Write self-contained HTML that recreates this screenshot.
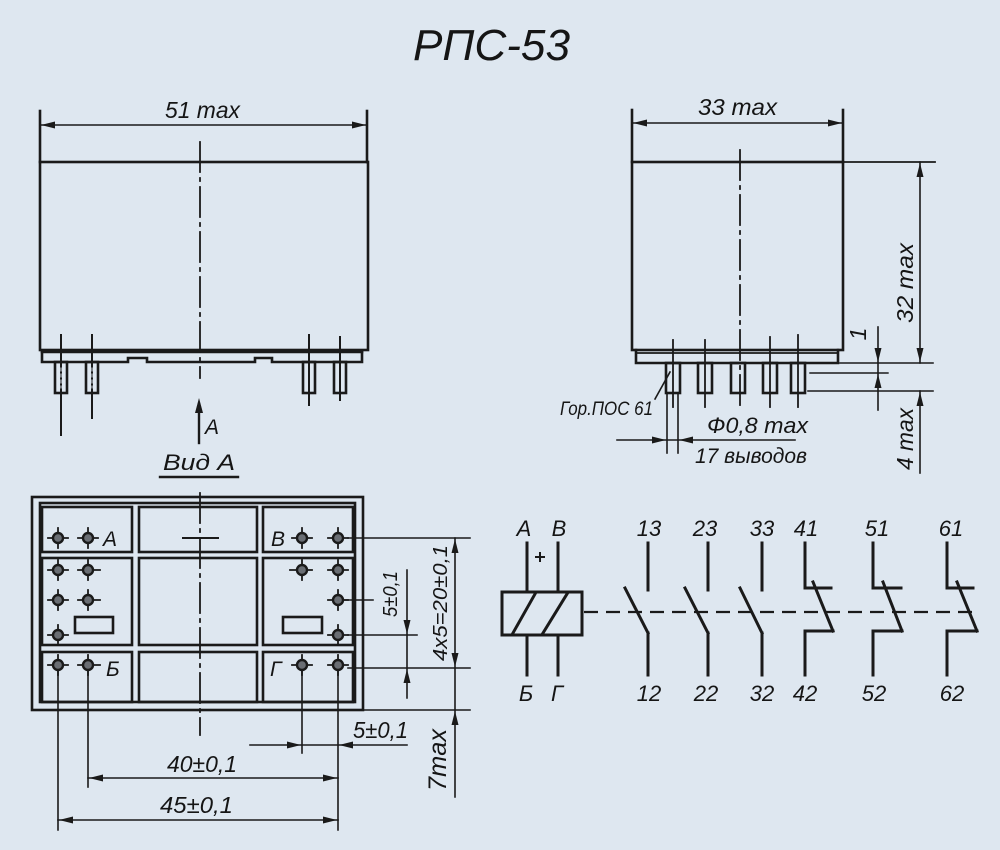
<!DOCTYPE html>
<html>
<head>
<meta charset="utf-8">
<style>
html,body{margin:0;padding:0;background:#dee7f0;}
svg{display:block;}
text{font-family:"Liberation Sans","DejaVu Sans",sans-serif;font-style:italic;fill:#151515;}
</style>
</head>
<body>
<svg width="1000" height="850" viewBox="0 0 1000 850" xmlns="http://www.w3.org/2000/svg">
<rect x="0" y="0" width="1000" height="850" fill="#dee7f0"/>

<!-- Title -->
<text x="413" y="60" font-size="44" textLength="157" lengthAdjust="spacingAndGlyphs">РПС-53</text>

<g stroke="#1a1a1a" stroke-width="2.6" fill="none" stroke-linecap="square">
<!-- ================= LEFT VIEW ================= -->
<line x1="40" y1="111" x2="40" y2="162"/>
<line x1="367" y1="111" x2="367" y2="162"/>
<line x1="40" y1="125" x2="367" y2="125" stroke-width="1.6"/>
<rect x="40" y="162" width="328" height="188"/>
<!-- plate -->
<polyline points="42,352 362,352"/>
<polyline points="42,352 42,362 128,362 128,358 147,358 147,362 255,362 255,358 272,358 272,362 362,362 362,352"/>
<!-- centre line -->
<line x1="200" y1="142" x2="200" y2="378" stroke-width="1.8" stroke-dasharray="30,6,3,6"/>
<!-- pins -->
<rect x="55" y="362" width="12" height="31"/>
<rect x="86" y="362" width="12" height="31"/>
<rect x="303" y="362" width="12" height="31"/>
<rect x="334" y="362" width="12" height="31"/>
<line x1="61" y1="335" x2="61" y2="435" stroke-width="2"/>
<line x1="92" y1="335" x2="92" y2="418" stroke-width="2"/>
<line x1="309" y1="335" x2="309" y2="405" stroke-width="2"/>
<line x1="340" y1="337" x2="340" y2="400" stroke-width="2"/>
<line x1="61" y1="368" x2="61" y2="388" stroke="#dee7f0" stroke-width="1" stroke-dasharray="3,3"/>
<line x1="92" y1="368" x2="92" y2="388" stroke="#dee7f0" stroke-width="1" stroke-dasharray="3,3"/>
<!-- view arrow -->
<line x1="199" y1="404" x2="199" y2="443" stroke-width="2.4"/>
<line x1="160" y1="477" x2="238" y2="477" stroke-width="2.4"/>

<!-- ================= RIGHT VIEW ================= -->
<line x1="632" y1="110" x2="632" y2="162"/>
<line x1="843" y1="110" x2="843" y2="162"/>
<line x1="632" y1="123" x2="843" y2="123" stroke-width="1.6"/>
<rect x="632" y="162" width="211" height="188"/>
<line x1="843" y1="162" x2="935" y2="162" stroke-width="1.8"/>
<line x1="740" y1="150" x2="740" y2="405" stroke-width="1.8" stroke-dasharray="30,6,3,6"/>
<!-- plate -->
<polyline points="636,350 636,363 838,363 838,350"/>
<line x1="636" y1="353" x2="838" y2="353" stroke-width="1.8"/>
<!-- dim ext lines -->
<line x1="840" y1="363" x2="933" y2="363" stroke-width="1.6"/>
<line x1="810" y1="373" x2="888" y2="373" stroke-width="1.4"/>
<line x1="808" y1="391" x2="933" y2="391" stroke-width="1.6"/>
<line x1="920" y1="162" x2="920" y2="363" stroke-width="1.6"/>
<line x1="920" y1="391" x2="920" y2="473" stroke-width="1.6"/>
<line x1="878" y1="327" x2="878" y2="410" stroke-width="1.6"/>
<!-- pins -->
<rect x="666" y="363" width="14" height="30"/>
<rect x="698" y="363" width="14" height="30"/>
<rect x="731" y="363" width="14" height="30"/>
<rect x="763" y="363" width="14" height="30"/>
<rect x="791" y="363" width="14" height="30"/>
<line x1="673" y1="340" x2="673" y2="407" stroke-width="1.8"/>
<line x1="705" y1="340" x2="705" y2="407" stroke-width="1.8"/>
<line x1="770" y1="337" x2="770" y2="407" stroke-width="1.8"/>
<line x1="798" y1="335" x2="798" y2="407" stroke-width="1.8"/>
<!-- solder leader -->
<line x1="655" y1="399" x2="670" y2="372" stroke-width="1.6"/>
<line x1="667" y1="393" x2="667" y2="453" stroke-width="1.6"/>
<line x1="678" y1="393" x2="678" y2="453" stroke-width="1.6"/>
<line x1="617" y1="440" x2="795" y2="440" stroke-width="1.6"/>

<!-- ================= BOTTOM VIEW ================= -->
<rect x="32" y="497" width="331" height="213"/>
<rect x="40" y="503" width="315" height="199"/>
<!-- cells -->
<rect x="42" y="507" width="90" height="45"/>
<rect x="42" y="558" width="90" height="87"/>
<rect x="42" y="652" width="90" height="50"/>
<rect x="139" y="507" width="118" height="45"/>
<rect x="139" y="558" width="118" height="87"/>
<rect x="139" y="652" width="118" height="50"/>
<rect x="263" y="507" width="90" height="45"/>
<rect x="263" y="558" width="90" height="87"/>
<rect x="263" y="652" width="90" height="50"/>
<rect x="75" y="617" width="38" height="16"/>
<rect x="283" y="617" width="39" height="16"/>
<line x1="183" y1="538" x2="218" y2="538" stroke-width="2"/>
<line x1="200" y1="493" x2="200" y2="735" stroke-width="1.8" stroke-dasharray="30,6,3,6"/>

<!-- pin ext lines down -->
<line x1="58" y1="665" x2="58" y2="830" stroke-width="1.6"/>
<line x1="88" y1="665" x2="88" y2="787" stroke-width="1.6"/>
<line x1="302" y1="665" x2="302" y2="753" stroke-width="1.6"/>
<line x1="338" y1="665" x2="338" y2="830" stroke-width="1.6"/>
<!-- horizontal dims -->
<line x1="250" y1="745" x2="407" y2="745" stroke-width="1.6"/>
<line x1="88" y1="778" x2="338" y2="778" stroke-width="1.6"/>
<line x1="58" y1="820" x2="338" y2="820" stroke-width="1.6"/>
<!-- right ext lines -->
<line x1="348" y1="538" x2="470" y2="538" stroke-width="1.6"/>
<line x1="348" y1="635" x2="417" y2="635" stroke-width="1.6"/>
<line x1="348" y1="668" x2="470" y2="668" stroke-width="1.6"/>
<line x1="363" y1="710" x2="470" y2="710" stroke-width="1.6"/>
<line x1="338" y1="600" x2="373" y2="600" stroke-width="1.6"/>
<line x1="455" y1="538" x2="455" y2="797" stroke-width="1.6"/>
<line x1="407" y1="570" x2="407" y2="698" stroke-width="1.6"/>

<!-- pin crosses -->
<g stroke-width="1.8">
<path d="M48,538h20M58,528v20 M78,538h20M88,528v20
M48,570h20M58,560v20 M78,570h22M88,560v20
M48,600h20M58,590v20 M78,600h22M88,590v20
M48,635h20M58,625v18
M48,665h20M58,655v20 M78,665h22M88,655v20
M292,538h20M302,528v20 M328,538h20M338,528v20
M290,570h22M302,560v20 M328,570h20M338,560v20
M328,600h20M338,590v20
M328,635h20M338,625v20
M292,665h20M302,655v20 M328,665h20M338,655v20"/>
</g>
</g>

<!-- pin circles -->
<g fill="#6a6e74" stroke="#1a1a1a" stroke-width="2.4">
<circle cx="58" cy="538" r="5"/><circle cx="88" cy="538" r="5"/>
<circle cx="58" cy="570" r="5"/><circle cx="88" cy="570" r="5"/>
<circle cx="58" cy="600" r="5"/><circle cx="88" cy="600" r="5"/>
<circle cx="58" cy="635" r="5"/>
<circle cx="58" cy="665" r="5"/><circle cx="88" cy="665" r="5"/>
<circle cx="302" cy="538" r="5"/><circle cx="338" cy="538" r="5"/>
<circle cx="302" cy="570" r="5"/><circle cx="338" cy="570" r="5"/>
<circle cx="338" cy="600" r="5"/>
<circle cx="338" cy="635" r="5"/>
<circle cx="302" cy="665" r="5"/><circle cx="338" cy="665" r="5"/>
</g>

<!-- arrowheads -->
<g fill="#1a1a1a" stroke="none">
<!-- 51 max -->
<polygon points="41,125 55,121.5 55,128.5"/>
<polygon points="366,125 352,121.5 352,128.5"/>
<!-- view arrow A -->
<polygon points="199,398 195,413 203,413"/>
<!-- 33 max -->
<polygon points="633,123 647,119.5 647,126.5"/>
<polygon points="842,123 828,119.5 828,126.5"/>
<!-- 32 max -->
<polygon points="920,163 916.5,177 923.5,177"/>
<polygon points="920,362 916.5,348 923.5,348"/>
<!-- 4 max -->
<polygon points="920,392 916.5,406 923.5,406"/>
<!-- 1 -->
<polygon points="878,362 874.5,348 881.5,348"/>
<polygon points="878,374 874.5,388 881.5,388"/>
<!-- 0.8 -->
<polygon points="666,440 652,436.5 652,443.5"/>
<polygon points="679,440 693,436.5 693,443.5"/>
<!-- 4x5 / 7max -->
<polygon points="455,539 451.5,553 458.5,553"/>
<polygon points="455,667 451.5,653 458.5,653"/>
<polygon points="455,711 451.5,725 458.5,725"/>
<!-- 5±0,1 vertical -->
<polygon points="407,634 403.5,620 410.5,620"/>
<polygon points="407,669 403.5,683 410.5,683"/>
<!-- 5±0,1 horizontal -->
<polygon points="301,745 287,741.5 287,748.5"/>
<polygon points="339,745 353,741.5 353,748.5"/>
<!-- 40 -->
<polygon points="89,778 103,774.5 103,781.5"/>
<polygon points="337,778 323,774.5 323,781.5"/>
<!-- 45 -->
<polygon points="59,820 73,816.5 73,823.5"/>
<polygon points="337,820 323,816.5 323,823.5"/>
</g>

<!-- ================= SCHEMATIC ================= -->
<g stroke="#1a1a1a" stroke-width="3" fill="none" stroke-linecap="square">
<rect x="502" y="592" width="80" height="43"/>
<line x1="513" y1="633" x2="535" y2="594"/>
<line x1="543" y1="633" x2="567" y2="594"/>
<line x1="527" y1="543" x2="527" y2="592"/>
<line x1="558" y1="543" x2="558" y2="592"/>
<line x1="527" y1="635" x2="527" y2="675"/>
<line x1="558" y1="635" x2="558" y2="675"/>
<line x1="536" y1="557" x2="544" y2="557" stroke-width="2"/>
<line x1="540" y1="553" x2="540" y2="561" stroke-width="2"/>
<!-- dashed link -->
<line x1="584" y1="612" x2="977" y2="612" stroke-width="2.2" stroke-dasharray="14,8" stroke-linecap="butt"/>
<!-- NO contacts -->
<line x1="648" y1="543" x2="648" y2="590"/>
<line x1="648" y1="633" x2="648" y2="675"/>
<line x1="625" y1="588" x2="648" y2="633"/>
<line x1="708" y1="543" x2="708" y2="590"/>
<line x1="708" y1="633" x2="708" y2="675"/>
<line x1="685" y1="588" x2="708" y2="633"/>
<line x1="762" y1="543" x2="762" y2="590"/>
<line x1="762" y1="633" x2="762" y2="675"/>
<line x1="740" y1="588" x2="762" y2="633"/>
<!-- NC contacts -->
<polyline points="805,543 805,588 831,588"/>
<line x1="813" y1="582" x2="833" y2="631"/>
<polyline points="833,631 805,631 805,675"/>
<polyline points="873,543 873,588 901,588"/>
<line x1="883" y1="582" x2="902" y2="631"/>
<polyline points="902,631 873,631 873,675"/>
<polyline points="947,543 947,588 973,588"/>
<line x1="957" y1="582" x2="977" y2="631"/>
<polyline points="977,631 947,631 947,675"/>
</g>

<!-- ================= TEXT ================= -->
<g font-size="23">
<text x="165" y="118" textLength="75" lengthAdjust="spacingAndGlyphs">51 max</text>
<text x="698" y="115" textLength="79" lengthAdjust="spacingAndGlyphs">33 max</text>
<text transform="translate(913,283) rotate(-90)" text-anchor="middle" textLength="80" lengthAdjust="spacingAndGlyphs">32 max</text>
<text transform="translate(866,334) rotate(-90)" text-anchor="middle">1</text>
<text transform="translate(913,439) rotate(-90)" text-anchor="middle" textLength="62" lengthAdjust="spacingAndGlyphs">4 max</text>
</g>
<text x="560" y="415" font-size="19" textLength="93" lengthAdjust="spacingAndGlyphs">Гор.ПОС 61</text>
<text x="707" y="433" font-size="22" textLength="101" lengthAdjust="spacingAndGlyphs">Ф0,8 max</text>
<text x="695" y="463" font-size="21" textLength="112" lengthAdjust="spacingAndGlyphs">17 выводов</text>
<text x="205" y="434" font-size="21">A</text>
<text x="163" y="470" font-size="22" textLength="72" lengthAdjust="spacingAndGlyphs">Вид A</text>

<g font-size="21">
<text x="103" y="546">А</text>
<text x="271" y="546">В</text>
<text x="106" y="676">Б</text>
<text x="270" y="676">Г</text>
</g>

<g font-size="20">
<text transform="translate(397,594) rotate(-90)" text-anchor="middle" textLength="46" lengthAdjust="spacingAndGlyphs">5±0,1</text>
<text transform="translate(447,603) rotate(-90)" text-anchor="middle" textLength="116" lengthAdjust="spacingAndGlyphs">4x5=20±0,1</text>
</g>
<text transform="translate(446,760) rotate(-90)" text-anchor="middle" font-size="25" textLength="62" lengthAdjust="spacingAndGlyphs">7max</text>
<g font-size="23">
<text x="353" y="738" textLength="55" lengthAdjust="spacingAndGlyphs">5±0,1</text>
<text x="167" y="772" textLength="70" lengthAdjust="spacingAndGlyphs">40±0,1</text>
<text x="160" y="813" textLength="73" lengthAdjust="spacingAndGlyphs">45±0,1</text>
</g>

<!-- schematic labels -->
<g font-size="22" text-anchor="middle">
<text x="524" y="536">A</text>
<text x="559" y="536">В</text>
<text x="649" y="536">13</text>
<text x="705" y="536">23</text>
<text x="762" y="536">33</text>
<text x="806" y="536">41</text>
<text x="877" y="536">51</text>
<text x="951" y="536">61</text>
<text x="526" y="701">Б</text>
<text x="557" y="701">Г</text>
<text x="649" y="701">12</text>
<text x="706" y="701">22</text>
<text x="762" y="701">32</text>
<text x="805" y="701">42</text>
<text x="874" y="701">52</text>
<text x="952" y="701">62</text>
</g>
</svg>
</body>
</html>
